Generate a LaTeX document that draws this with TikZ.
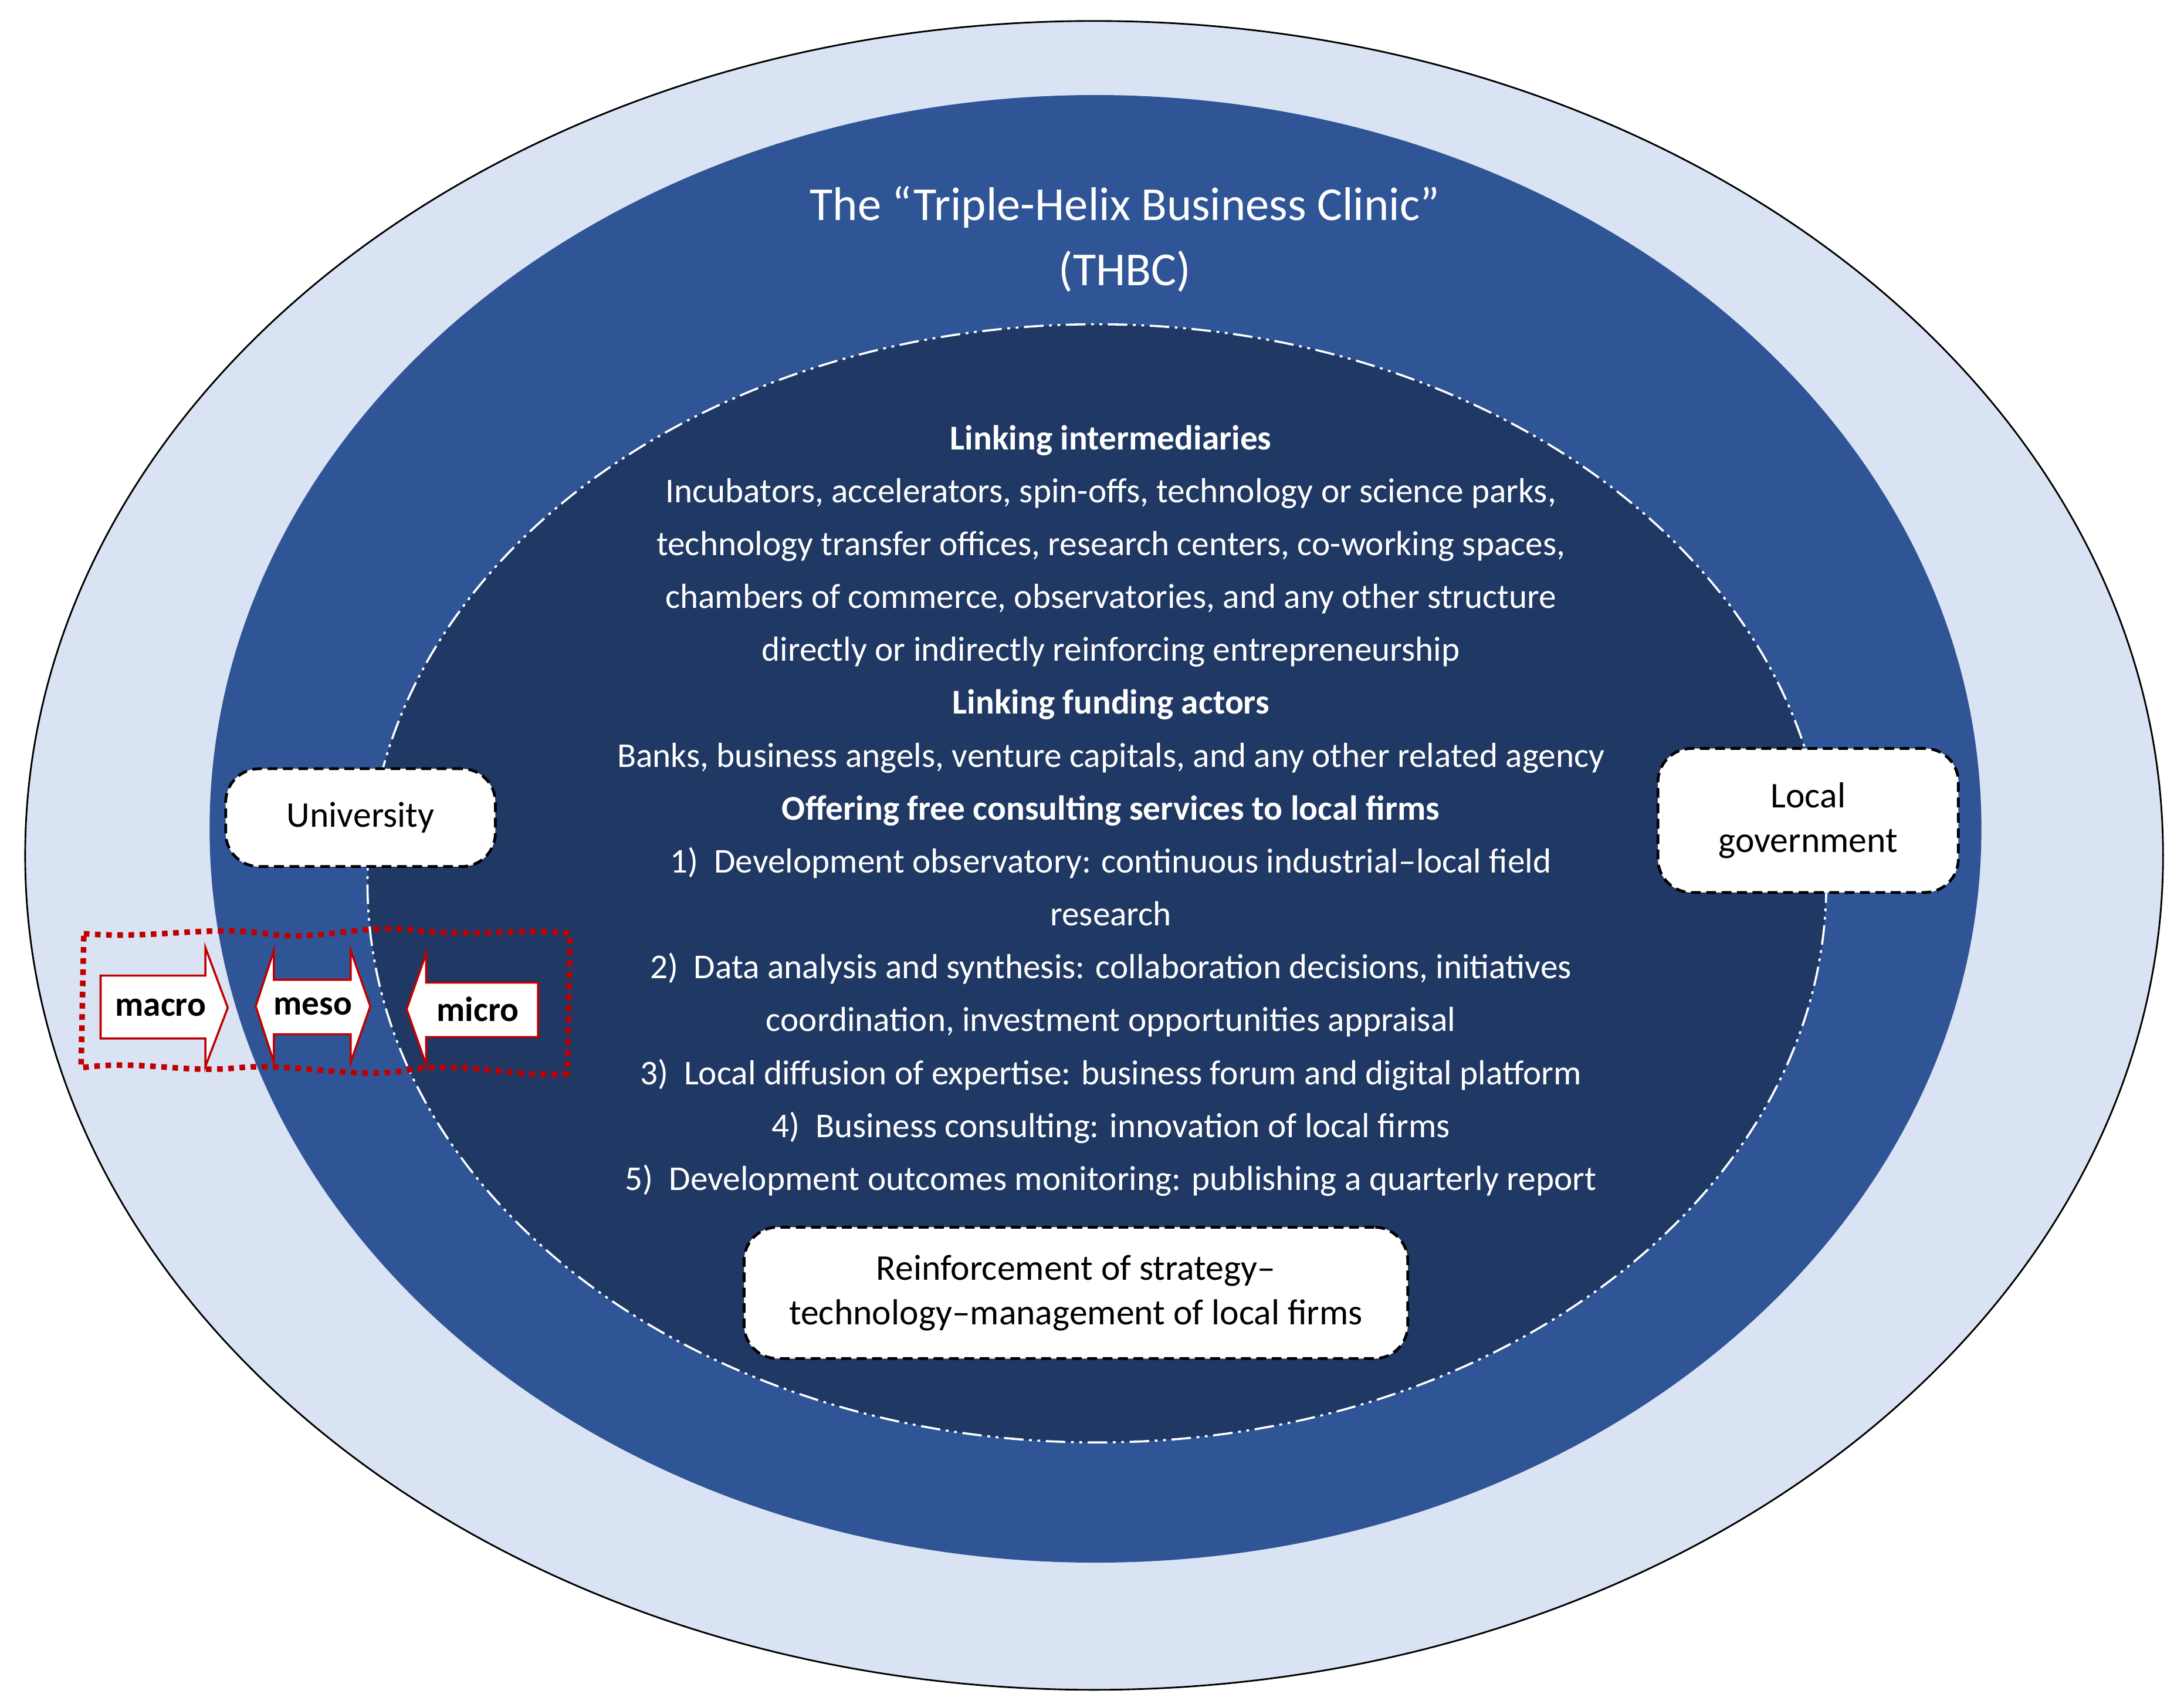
\documentclass[tikz,border=0pt]{standalone}
\usepackage{fontspec}
\setmainfont{Carlito}
\definecolor{lightb}{HTML}{DAE3F3}
\definecolor{midb}{HTML}{2F5597}
\definecolor{darkb}{HTML}{203864}
\definecolor{redd}{HTML}{C00000}
\begin{document}
\begin{tikzpicture}[x=1bp,y=-1bp,
  box/.style={draw=black,fill=white,line width=2bp,dash pattern=on 7bp off 4bp,rounded corners=24bp,font=\fontsize{26}{32}\selectfont,align=center,inner sep=0pt},
  txt/.style={text=white,font=\fontsize{25}{38}\selectfont,align=center},
  arr/.style={draw=redd,fill=white,line width=1.5bp},
  lab/.style={font=\bfseries\fontsize{25}{30}\selectfont,inner sep=0pt}]
\useasboundingbox (0,0) rectangle (1563,1219);
\fill[white] (0,0) rectangle (1563,1219);
\draw[fill=lightb,line width=1.2bp] (783,612) ellipse [x radius=765,y radius=597];
\fill[midb] (784,593) ellipse [x radius=634,y radius=525];
\draw[fill=darkb,draw=white,line width=1.5bp,dash pattern=on 14bp off 4bp on 2bp off 4bp on 2bp off 4bp] (785,632) ellipse [x radius=522,y radius=400];
\node[text=white,font=\fontsize{34}{47}\selectfont,align=center] (title) at (805,171) {The “Triple-Helix Business Clinic”\\(THBC)};
\node[txt] (body) at (795,580) {\textbf{Linking intermediaries}\\
Incubators, accelerators, spin-offs, technology or science parks,\\
technology transfer offices, research centers, co-working spaces,\\
chambers of commerce, observatories, and any other structure\\
directly or indirectly reinforcing entrepreneurship\\
\textbf{Linking funding actors}\\
Banks, business angels, venture capitals, and any other related agency\\
\textbf{Offering free consulting services to local firms}\\
1)\ \ Development observatory: continuous industrial–local field\\
research\\
2)\ \ Data analysis and synthesis: collaboration decisions, initiatives\\
coordination, investment opportunities appraisal\\
3)\ \ Local diffusion of expertise: business forum and digital platform\\
4)\ \ Business consulting: innovation of local firms\\
5)\ \ Development outcomes monitoring: publishing a quarterly report};
\node[box,minimum width=193bp,minimum height=70bp] (uni) at (258,585) {University};
\node[box,minimum width=215bp,minimum height=103bp] (gov) at (1294,587) {Local\\government};
\node[box,minimum width=475bp,minimum height=94bp] (reinf) at (770,925) {Reinforcement of strategy–\\technology–management of local firms};
% red dotted wavy frame
\draw[redd,line width=4bp,dash pattern=on 4bp off 4bp]
  (60,668) .. controls (110,672) and (150,662) .. (190,668) .. controls (230,674) and (260,660) .. (300,666) .. controls (340,670) and (380,664) .. (408,668)
  -- (406,768) .. controls (370,772) and (330,758) .. (290,766) .. controls (250,772) and (210,760) .. (170,764) .. controls (130,768) and (100,758) .. (58,764) -- cycle;
% macro arrow
\draw[arr] (72,698) -- (147,698) -- (147,678) -- (163,721) -- (147,763) -- (147,743) -- (72,743) -- cycle;
\node[lab] (macro) at (115,721) {macro};
% meso double arrow
\draw[arr] (183,720) -- (196,680) -- (196,701) -- (251,701) -- (251,680) -- (265,720) -- (251,760) -- (251,740) -- (196,740) -- (196,760) -- cycle;
\node[lab] (meso) at (224,720) {meso};
% micro arrow
\draw[arr] (291,722) -- (305,682) -- (305,703) -- (385,703) -- (385,742) -- (305,742) -- (305,762) -- cycle;
\node[lab] (micro) at (342,722) {micro};
\end{tikzpicture}
\end{document}
